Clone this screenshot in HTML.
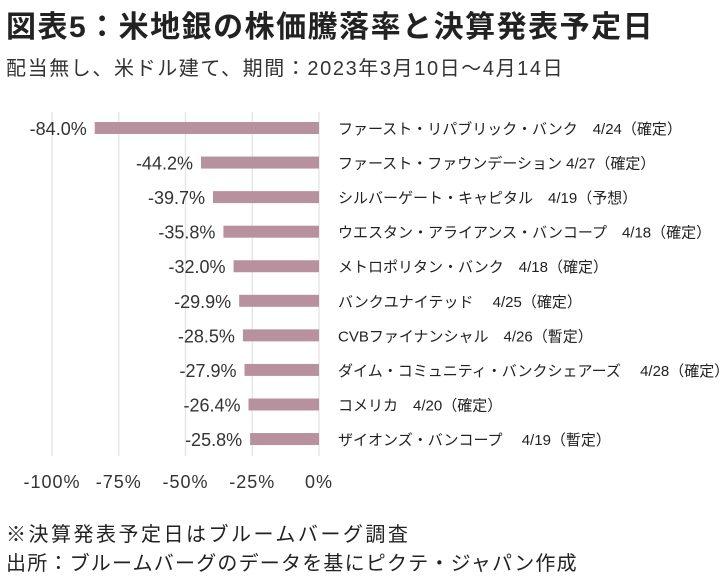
<!DOCTYPE html>
<html><head><meta charset="utf-8"><style>
body{margin:0;background:#fff;width:724px;height:582px;overflow:hidden;font-family:"Liberation Sans","Noto Sans CJK JP",sans-serif;color:#222}
.t{position:absolute;white-space:nowrap}
</style></head><body>
<div class="t" style="left:6px;top:2px;font-size:30px;font-weight:bold;color:#222;letter-spacing:1.5px">図表5：米地銀の株価騰落率と決算発表予定日</div>
<div class="t" style="left:6px;top:52px;font-size:20px;color:#333;letter-spacing:1.6px">配当無し、米ドル建て、期間：2023年3月10日～4月14日</div>
<svg id="chart" width="724" height="582" style="position:absolute;left:0;top:0"></svg>
<div class="t" style="left:6px;top:518px;font-size:20px;color:#222;letter-spacing:2.5px">※決算発表予定日はブルームバーグ調査</div>
<div class="t" style="left:6px;top:547px;font-size:20px;color:#222;letter-spacing:1.2px">出所：ブルームバーグのデータを基にピクテ・ジャパン作成</div>
<script>
const categories=["ファースト・リパブリック・バンク　4/24（確定）","ファースト・ファウンデーション 4/27（確定）","シルバーゲート・キャピタル　4/19（予想）","ウエスタン・アライアンス・バンコープ　4/18（確定）","メトロポリタン・バンク　4/18（確定）","バンクユナイテッド　 4/25（確定）","CVBファイナンシャル　4/26（暫定）","ダイム・コミュニティ・バンクシェアーズ　 4/28（確定）","コメリカ　4/20（確定）","ザイオンズ・バンコープ　 4/19（暫定）"];
const values=[-84.0,-44.2,-39.7,-35.8,-32.0,-29.9,-28.5,-27.9,-26.4,-25.8];
const valueLabels=["-84.0%","-44.2%","-39.7%","-35.8%","-32.0%","-29.9%","-28.5%","-27.9%","-26.4%","-25.8%"];
const ticks=[-100,-75,-50,-25,0];
const tickLabels=["-100%","-75%","-50%","-25%","0%"];
const svg=document.getElementById('chart');const NS='http://www.w3.org/2000/svg';
const x=v=>319+v*2.67;
const y=i=>128+i*34.56;
function mk(t,a){const e=document.createElementNS(NS,t);for(const k in a)e.setAttribute(k,a[k]);svg.appendChild(e);return e;}
ticks.forEach((t,i)=>{
 const g=mk('line',{x1:x(t),x2:x(t),y1:112,y2:456,stroke:'#e3e3e3','stroke-width':1.3});
 
 
 const l=mk('text',{x:x(t),y:488,'text-anchor':'middle','font-size':18,fill:'#333','letter-spacing':1});
 l.textContent=tickLabels[i];
 
 
});
values.forEach((v,i)=>{
 const b=mk('rect',{x:x(v),y:y(i)-6,width:x(0)-x(v),height:12,fill:'#b8919f'});
 
 
 const vl=mk('text',{x:x(v)-8,y:y(i)+7,'text-anchor':'end','font-size':18,fill:'#333'});
 vl.textContent=valueLabels[i];
 
 
 const c=mk('text',{x:338,y:y(i)+6,'font-size':15,fill:'#222'});
 c.textContent=categories[i];
 
 
});
</script>
</body></html>
